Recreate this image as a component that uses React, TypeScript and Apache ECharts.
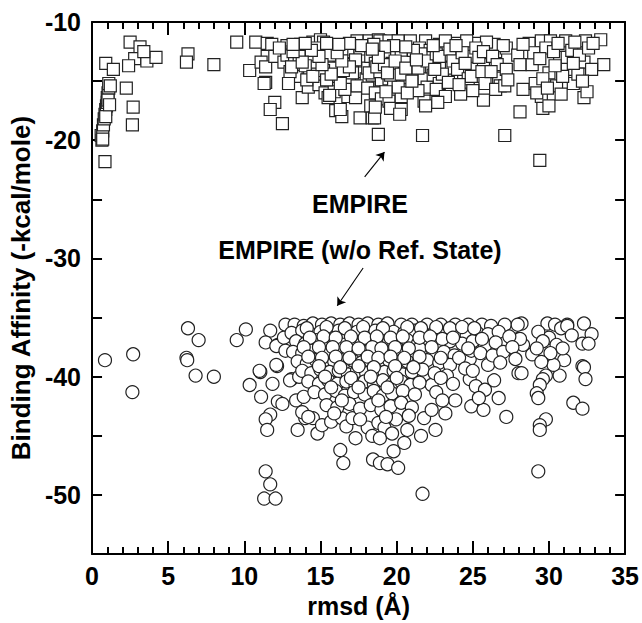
import { useEffect, useRef } from "react";
import * as echarts from "echarts";

// ---------- DATA ----------
const yMajorTicks = [-50, -40, -30, -20, -10];

// EMPIRE (squares) — rmsd (Å), binding affinity
const empireLowRmsd: number[][] = [
  [0.6, -19.6], [0.65, -20.0], [0.7, -19.2], [0.75, -18.7], [0.8, -18.2], [0.85, -17.8], [0.9, -17.4],
  [0.95, -17.1], [1.0, -16.8], [1.0, -16.4], [1.05, -16.0], [1.1, -15.6], [1.1, -15.2], [1.05, -16.6],
  [0.9, -18.0], [1.15, -17.0], [0.9, -13.5], [1.4, -14.0], [0.85, -21.8], [1.2, -15.4], [0.7, -19.9],
  [2.5, -11.7], [3.15, -12.1], [2.8, -13.1], [2.4, -13.7], [3.6, -13.3], [4.2, -13.0], [3.4, -12.5],
  [2.25, -15.6], [2.7, -17.2], [2.65, -18.7], [6.3, -12.7], [6.2, -13.4], [8.0, -13.6],
];
const empireMidRmsd: number[][] = [
  [9.5, -11.7], [10.75, -11.7], [11.5, -11.8], [11.8, -11.9], [10.35, -14.1], [11.4, -15.1], [12.0, -16.8],
  [11.7, -17.4], [12.5, -18.6], [11.5, -12.9], [11.1, -13.4], [11.4, -13.8], [12.0, -12.9], [12.8, -12.0],
  [12.6, -13.4], [11.3, -15.2], [12.8, -12.8], [13.3, -13.3], [13.5, -14.0], [13.4, -14.6], [13.7, -11.9],
  [13.8, -16.4], [14.5, -11.7], [15.0, -11.5], [15.2, -11.7], [15.75, -12.0], [14.2, -15.5], [14.9, -15.3],
  [15.3, -16.0], [15.9, -15.9], [15.5, -16.4], [15.6, -16.2], [16.0, -17.5], [16.4, -18.0], [16.3, -17.4],
  [16.8, -16.3], [13.0, -14.2], [13.9, -12.6], [14.3, -13.1], [14.6, -13.8], [14.8, -14.4], [15.3, -12.4],
  [15.5, -13.2], [15.8, -13.9], [16.1, -14.6], [14.1, -14.9], [12.9, -15.2], [16.2, -12.8], [15.9, -12.3],
  [16.5, -12.0], [17.4, -11.6], [18.2, -11.6], [18.8, -11.5], [17.3, -16.4], [17.6, -18.1], [18.4, -18.1],
  [18.3, -17.1], [18.8, -19.5], [16.7, -13.0], [17.0, -13.6], [17.2, -12.4], [17.5, -14.2], [17.8, -13.0],
  [18.0, -14.8], [18.3, -13.4], [18.5, -12.6], [18.7, -14.0], [18.9, -13.2], [18.9, -15.0], [19.0, -13.7],
  [19.1, -14.4], [16.9, -14.9], [17.4, -15.4], [16.6, -15.7], [18.1, -15.6], [18.6, -16.0], [19.0, -16.5],
  [18.55, -18.1], [17.9, -12.1], [16.8, -12.5], [17.1, -14.3], [18.4, -14.5], [19.2, -12.9], [19.2, -13.9],
  [19.0, -14.9], [18.6, -17.2], [12.3, -12.2], [13.6, -12.9], [14.7, -12.2], [15.6, -12.8], [16.4, -12.3],
  [14.0, -13.7], [15.2, -14.1], [16.5, -14.1], [13.1, -13.8], [14.5, -14.6], [15.4, -14.9], [16.3, -15.2],
];
const empireCentre: number[][] = [
  [18.9, -11.6], [19.5, -11.6], [20.1, -11.6], [20.9, -11.6], [21.9, -11.6], [19.4, -12.3], [19.6, -13.0],
  [19.4, -13.6], [19.7, -14.2], [19.5, -14.8], [19.8, -15.4], [19.5, -16.7], [19.6, -17.3], [20.3, -17.4],
  [20.2, -17.8], [20.3, -16.3], [20.0, -12.4], [20.2, -13.2], [20.4, -14.0], [20.6, -14.7], [20.1, -15.5],
  [20.8, -12.8], [21.0, -13.5], [21.2, -14.3], [21.5, -12.2], [21.7, -13.0], [21.8, -14.8], [21.8, -16.7],
  [21.9, -17.1], [21.7, -19.6], [22.0, -15.5], [21.4, -15.8], [22.2, -12.4], [22.3, -13.8], [20.7, -16.0],
  [19.3, -15.9], [17.6, -12.8], [17.9, -13.3], [18.1, -13.9], [18.3, -12.9], [18.6, -13.5], [18.8, -12.4],
  [19.0, -13.0], [19.1, -13.5], [19.3, -14.1], [19.3, -13.3], [19.5, -12.8], [19.7, -13.5], [19.9, -14.0],
  [20.0, -13.0], [20.1, -13.7], [20.3, -12.7], [20.5, -13.4], [18.2, -14.3], [18.9, -14.2], [19.6, -14.5],
  [20.3, -14.4], [17.3, -13.2], [16.9, -13.8], [16.4, -13.3], [16.1, -12.6], [15.7, -14.4], [15.1, -13.6],
  [14.9, -12.9], [14.4, -12.4], [13.8, -13.4], [13.2, -12.5], [21.4, -13.9], [21.6, -12.7], [22.0, -13.3],
  [22.4, -14.5], [22.9, -13.6], [23.3, -12.8], [23.8, -14.6], [24.4, -13.1], [25.0, -13.7], [25.3, -14.6],
  [26.0, -13.2], [26.5, -12.5], [21.1, -12.4], [20.6, -12.1], [19.8, -12.0], [19.2, -12.1], [18.5, -11.9],
  [17.7, -12.0], [16.9, -11.8], [16.2, -11.9], [15.4, -11.8], [14.0, -11.8], [13.2, -11.9], [22.8, -11.9],
  [24.0, -11.8], [25.3, -11.8], [26.4, -11.9], [18.7, -13.8], [19.2, -13.6], [19.4, -14.3], [18.8, -13.0],
  [19.9, -13.3], [18.4, -12.3], [20.6, -13.9], [21.3, -13.2], [22.6, -12.7], [23.6, -13.9], [24.8, -12.9],
  [25.7, -13.6], [21.0, -15.0], [22.8, -15.2], [24.4, -14.3],
];
const empireHighRmsd: number[][] = [
  [23.2, -11.6], [24.6, -11.6], [25.9, -11.7], [22.6, -15.7], [23.2, -16.3], [22.7, -16.8], [24.2, -16.1],
  [25.7, -16.6], [22.8, -12.9], [23.0, -14.4], [23.5, -12.3], [23.7, -13.3], [24.0, -14.0], [24.3, -12.6],
  [24.5, -13.5], [24.7, -14.8], [24.9, -14.6], [25.2, -12.2], [25.4, -13.0], [25.6, -14.2], [25.8, -15.2],
  [23.4, -15.1], [22.5, -14.0], [24.1, -15.3], [25.0, -15.8], [23.9, -12.0], [22.4, -12.0], [25.7, -12.5],
  [26.7, -14.75], [26.8, -15.4], [26.5, -15.7], [27.2, -12.2], [27.0, -12.0], [27.1, -19.6], [26.3, -12.9],
  [26.6, -13.6], [27.95, -12.8], [28.1, -13.6], [27.2, -14.0], [27.1, -15.4], [27.3, -14.9], [28.3, -15.7],
  [28.1, -17.6], [26.2, -14.2], [28.7, -11.8], [29.5, -11.6], [30.1, -11.6], [31.1, -11.6], [32.4, -11.6],
  [33.4, -11.5], [33.6, -13.6], [28.9, -13.6], [29.1, -15.2], [29.5, -16.3], [29.6, -17.3], [30.0, -17.1],
  [30.5, -15.4], [31.6, -15.2], [32.3, -16.4], [32.5, -15.9], [32.3, -13.4], [32.8, -14.0], [31.2, -14.0],
  [30.7, -13.0], [31.2, -13.0], [29.4, -21.7], [29.0, -12.6], [29.8, -12.2], [30.3, -12.5], [30.0, -14.3],
  [29.6, -14.8], [30.9, -14.6], [31.5, -12.4], [32.0, -12.8], [32.6, -12.2], [31.9, -14.4], [32.2, -15.0],
  [29.2, -16.0], [30.8, -16.1], [28.3, -11.9], [30.6, -11.8], [31.7, -11.7], [32.9, -11.8], [29.4, -13.1],
  [30.4, -13.7], [31.6, -13.5], [29.9, -15.6],
];

// EMPIRE without reference state (circles)
const noRefLowRmsd: number[][] = [
  [0.85, -38.6], [2.7, -38.1], [2.65, -41.3], [6.3, -35.9], [7.0, -36.9], [6.2, -38.4], [6.25, -38.6],
  [6.8, -39.9], [8.0, -40.0], [9.5, -36.9], [10.1, -36.0], [10.35, -40.7], [11.05, -39.6], [12.15, -39.1],
  [11.85, -40.6], [11.1, -41.7], [12.2, -42.1], [12.5, -42.3], [11.7, -43.2], [11.4, -43.6], [11.5, -44.5],
  [11.4, -48.0], [11.7, -49.1], [11.3, -50.3], [12.05, -50.3], [11.7, -36.1], [12.7, -35.6], [11.4, -37.1],
  [12.2, -37.3], [12.1, -37.4], [12.6, -36.7], [12.7, -37.8], [12.1, -39.0], [11.0, -39.5],
];
const noRefTail: number[][] = [
  [13.1, -40.2], [13.0, -40.3], [13.6, -40.0], [13.4, -42.0], [13.9, -41.7], [14.0, -43.5], [14.5, -43.5],
  [13.5, -44.5], [13.8, -43.0], [14.2, -43.4], [14.8, -44.8], [15.1, -44.1], [15.7, -43.8], [16.4, -43.5],
  [16.7, -44.2], [17.1, -43.5], [16.3, -46.2], [16.5, -47.3], [17.3, -45.2], [18.45, -47.0], [18.1, -44.3],
  [18.4, -45.0], [18.8, -43.9], [18.9, -47.3], [19.4, -47.4], [19.8, -46.3], [20.1, -47.7], [20.5, -45.6],
  [19.96, -43.6], [19.2, -44.3], [21.6, -45.0], [22.55, -44.5], [21.8, -43.5], [21.7, -49.9], [22.3, -42.8],
  [23.2, -43.1], [23.85, -42.0], [24.9, -42.5], [25.7, -42.8], [26.7, -41.8], [27.2, -43.4], [28.0, -39.7],
  [28.2, -39.7], [24.8, -40.2], [25.2, -40.8], [25.8, -41.1], [25.4, -41.8], [24.8, -38.5], [24.9, -37.8],
  [26.0, -39.0], [22.3, -40.7], [22.6, -41.3], [23.0, -42.0], [18.9, -45.2], [19.7, -44.8], [20.7, -44.5],
];
const noRefHighRmsd: number[][] = [
  [28.2, -35.5], [29.9, -35.5], [30.4, -35.6], [31.2, -35.6], [32.3, -35.5], [32.8, -36.4], [32.2, -37.2],
  [32.6, -37.2], [32.2, -39.1], [32.3, -39.2], [32.4, -40.2], [31.6, -42.2], [32.2, -42.7], [31.0, -38.6],
  [30.7, -39.9], [30.3, -39.0], [29.8, -39.9], [29.6, -40.2], [29.4, -40.7], [29.2, -41.4], [29.3, -41.8],
  [29.8, -43.6], [29.4, -44.1], [29.4, -44.5], [29.3, -48.0], [30.0, -36.7], [30.5, -37.3], [30.1, -38.0],
  [28.9, -38.1], [29.5, -38.75], [30.8, -35.9], [31.2, -35.7], [28.0, -36.8], [28.3, -37.3], [28.1, -36.8],
  [27.1, -35.6], [27.95, -35.6], [29.3, -36.2], [29.6, -37.0], [31.5, -36.5], [30.9, -37.6], [29.2, -37.6],
];
const noRefCore: number[][] = [
  [13.3, -35.6], [13.9, -35.7], [14.5, -35.5], [15.1, -35.6], [15.7, -35.5], [16.3, -35.6], [16.9, -35.5],
  [17.5, -35.6], [18.1, -35.5], [18.8, -35.6], [19.4, -35.5], [20.3, -35.6], [21.0, -35.6], [22.0, -35.6],
  [22.9, -35.6], [23.85, -35.6], [24.7, -35.6], [25.6, -35.6], [26.2, -35.7],
  [13.1, -36.3], [13.8, -36.1], [14.4, -36.4], [15.0, -36.2], [15.6, -36.3], [16.2, -36.1], [16.8, -36.4],
  [17.4, -36.2], [18.0, -36.3], [18.6, -36.1], [19.2, -36.4], [19.8, -36.2], [20.5, -36.3], [21.2, -36.1],
  [21.8, -36.4], [22.5, -36.2], [23.2, -36.4], [24.0, -36.2], [24.6, -36.5], [25.3, -36.3], [26.0, -36.4],
  [26.7, -36.2], [13.4, -37.0], [14.0, -37.2], [14.7, -36.9], [15.3, -37.1], [15.9, -37.0], [16.5, -37.3],
  [17.1, -36.9], [17.7, -37.2], [18.3, -37.0], [18.9, -37.3], [19.5, -37.0], [20.1, -37.2], [20.7, -36.9],
  [21.4, -37.2], [22.1, -37.0], [22.8, -37.3], [23.5, -37.0], [24.3, -37.2], [25.0, -37.0], [25.8, -37.4],
  [26.5, -37.1], [13.2, -37.9], [13.8, -38.0], [14.4, -37.8], [15.0, -38.1], [15.6, -37.9], [16.2, -38.0],
  [16.8, -37.7], [17.4, -38.1], [18.0, -37.9], [18.6, -38.0], [19.2, -37.8], [19.8, -38.1], [20.4, -37.9],
  [21.1, -38.0], [21.7, -37.8], [22.4, -38.1], [23.1, -37.9], [23.8, -38.2], [25.5, -38.0], [13.5, -38.7],
  [14.1, -38.9], [14.7, -38.6], [15.3, -38.8], [15.9, -38.7], [16.5, -38.9], [17.1, -38.6], [17.7, -38.8],
  [18.3, -38.7], [18.9, -38.9], [19.5, -38.6], [20.1, -38.8], [20.7, -38.7], [21.4, -38.9], [22.0, -38.6],
  [22.8, -38.8], [23.5, -39.0], [13.8, -39.5], [14.4, -39.7], [15.0, -39.4], [15.6, -39.6], [16.2, -39.5],
  [16.8, -39.8], [17.4, -39.5], [18.0, -39.7], [18.6, -39.4], [19.2, -39.6], [19.8, -39.5], [20.4, -39.8],
  [21.0, -39.6], [21.7, -39.4], [22.5, -39.7], [23.3, -39.9], [14.2, -40.4], [14.9, -40.6], [15.5, -40.3],
  [16.1, -40.6], [16.7, -40.4], [17.3, -40.7], [17.9, -40.4], [18.5, -40.6], [19.1, -40.3], [19.7, -40.6],
  [20.3, -40.4], [20.9, -40.7], [21.5, -40.5], [14.6, -41.3], [15.3, -41.5], [16.0, -41.2], [16.6, -41.6],
  [17.2, -41.3], [17.9, -41.5], [18.5, -41.2], [19.1, -41.6], [19.7, -41.4], [20.4, -41.2], [21.2, -41.5],
  [15.4, -42.4], [16.1, -42.6], [16.9, -42.3], [17.6, -42.7], [18.3, -42.4], [19.0, -42.8], [19.6, -42.5],
  [20.3, -42.2], [21.0, -42.6], [15.9, -43.1], [17.6, -43.6], [19.3, -43.4], [20.8, -43.3], [21.5, -37.6],
  [23.0, -36.8], [24.1, -38.4], [24.5, -39.3], [23.7, -40.6], [22.9, -40.1], [26.3, -38.2], [27.0, -37.9],
  [26.8, -38.8], [27.4, -36.6], [27.6, -37.5], [25.0, -39.5], [26.4, -40.3], [27.8, -38.5],
];
const noRefCoreOverlap: number[][] = [
  [14.1, -35.9], [15.4, -35.8], [16.6, -35.9], [17.8, -35.8], [19.1, -35.9], [20.7, -35.8], [21.6, -35.9],
  [22.6, -35.8], [23.5, -35.9], [24.3, -35.8], [25.1, -35.9], [14.3, -36.7], [15.2, -36.6], [16.0, -36.7],
  [17.0, -36.6], [17.9, -36.7], [18.7, -36.6], [19.6, -36.7], [20.4, -36.6], [21.5, -36.7], [22.2, -36.6],
  [23.7, -36.7], [25.6, -36.8], [14.9, -37.5], [15.8, -37.5], [16.7, -37.5], [17.5, -37.6], [18.4, -37.5],
  [19.0, -37.6], [19.9, -37.5], [20.8, -37.6], [22.3, -37.5], [24.7, -37.6], [13.9, -37.5], [14.2, -38.3],
  [15.1, -38.4], [16.0, -38.3], [16.9, -38.4], [18.1, -38.3], [18.8, -38.4], [19.6, -38.3], [20.5, -38.4],
  [21.5, -38.3], [22.9, -38.4], [14.9, -39.1], [16.3, -39.2], [17.5, -39.1], [18.5, -39.2], [19.9, -39.1],
  [21.1, -39.2], [15.3, -40.0], [17.0, -40.1], [18.3, -40.0], [20.0, -40.1], [15.7, -40.9], [17.5, -40.9],
  [19.4, -40.9], [16.4, -42.0], [18.8, -42.0],
];

const empirePoints = [...empireLowRmsd, ...empireMidRmsd, ...empireCentre, ...empireHighRmsd];
const noRefPoints = [...noRefLowRmsd, ...noRefTail, ...noRefHighRmsd, ...noRefCore, ...noRefCoreOverlap];

// annotation arrows (data coordinates: tail -> head)
const arrowEmpire = [[17.9, -23.1], [19.2, -21.0]];
const arrowNoRef = [[17.8, -30.8], [16.1, -34.0]];

// ---------- STYLE / LAYOUT ----------
const FONT = "Liberation Sans";
const INK = "#000";
const X_MIN = 0, X_MAX = 35, Y_MIN = -55, Y_MAX = -10;
const GRID = { left: 87, right: 15, top: 22, bottom: 65 };
const W = 642, H = 623;

function xAxisCfg(position: "bottom" | "top", withLabels: boolean) {
  return {
    type: "value",
    position,
    min: X_MIN,
    max: X_MAX,
    interval: 5,
    axisLine: { show: true, onZero: false, lineStyle: { color: INK, width: 2 } },
    axisTick: { show: true, inside: true, length: 13, lineStyle: { color: INK, width: 2 } },
    minorTick: { show: true, splitNumber: 5, length: 7, lineStyle: { color: INK, width: 2 } },
    splitLine: { show: false },
    axisLabel: { show: withLabels, fontSize: 25, fontWeight: "bold", color: "#000", fontFamily: FONT, margin: 9 },
    ...(withLabels
      ? {
          name: "rmsd (Å)",
          nameLocation: "middle",
          nameGap: 36,
          nameTextStyle: { fontSize: 25, fontWeight: "bold", color: "#000", fontFamily: FONT },
        }
      : {}),
  };
}

function yAxisCfg(position: "left" | "right", withLabels: boolean) {
  return {
    type: "value",
    position,
    min: Y_MIN,
    max: Y_MAX,
    interval: 5,
    axisLine: { show: true, onZero: false, lineStyle: { color: INK, width: 2 } },
    axisTick: { show: true, inside: true, length: 10, lineStyle: { color: INK, width: 2 } },
    splitLine: { show: false },
    axisLabel: {
      show: withLabels,
      fontSize: 25,
      fontWeight: "bold",
      color: "#000",
      fontFamily: FONT,
      margin: 11,
      formatter: (v: number) => (yMajorTicks.includes(v) ? String(v) : ""),
    },
    ...(withLabels
      ? {
          name: "Binding Affinity (-kcal/mole)",
          nameLocation: "middle",
          nameGap: 50,
          nameTextStyle: { fontSize: 26, fontWeight: "bold", color: "#000", fontFamily: FONT },
        }
      : {}),
  };
}

export default function App() {
  const ref = useRef<HTMLDivElement>(null);
  useEffect(() => {
    if (!ref.current) return;
    const chart = echarts.init(ref.current, null, { renderer: "svg" });
    const option: any = {
      animation: false,
      backgroundColor: "#fff",
      grid: GRID,
      xAxis: [xAxisCfg("bottom", true), xAxisCfg("top", false)],
      yAxis: [yAxisCfg("left", true), yAxisCfg("right", false)],
      series: [
        {
          type: "scatter",
          name: "EMPIRE",
          xAxisIndex: 0,
          yAxisIndex: 0,
          data: empirePoints,
          symbol: "rect",
          symbolSize: 12,
          itemStyle: { color: "#fff", borderColor: "#222", borderWidth: 1.2, opacity: 1 },
          emphasis: { disabled: true },
          markLine: {
            silent: true,
            symbol: ["none", "arrow"],
            symbolSize: 8,
            label: { show: false },
            lineStyle: { color: "#000", width: 1.1, type: "solid" },
            data: [
              [{ coord: arrowEmpire[0] }, { coord: arrowEmpire[1] }],
              [{ coord: arrowNoRef[0] }, { coord: arrowNoRef[1] }],
            ],
          },
        },
        {
          type: "scatter",
          name: "EMPIRE (w/o Ref. State)",
          xAxisIndex: 0,
          yAxisIndex: 0,
          data: noRefPoints,
          symbol: "circle",
          symbolSize: 13,
          itemStyle: { color: "#fff", borderColor: "#222", borderWidth: 1.2, opacity: 1 },
          emphasis: { disabled: true },
        },
      ],
      graphic: [
        {
          type: "text",
          x: 360,
          y: 204,
          style: { text: "EMPIRE", fontSize: 25, fontWeight: "bold", fontFamily: FONT, fill: "#000", align: "center", verticalAlign: "middle" },
        },
        {
          type: "text",
          x: 360,
          y: 250,
          style: { text: "EMPIRE (w/o Ref. State)", fontSize: 25, fontWeight: "bold", fontFamily: FONT, fill: "#000", align: "center", verticalAlign: "middle" },
        },
      ],
    };
    chart.setOption(option);
    return () => chart.dispose();
  }, []);
  return (
    <div
      ref={ref}
      style={{ position: "fixed", left: 0, top: 0, width: W, height: H, background: "#fff" }}
    />
  );
}
